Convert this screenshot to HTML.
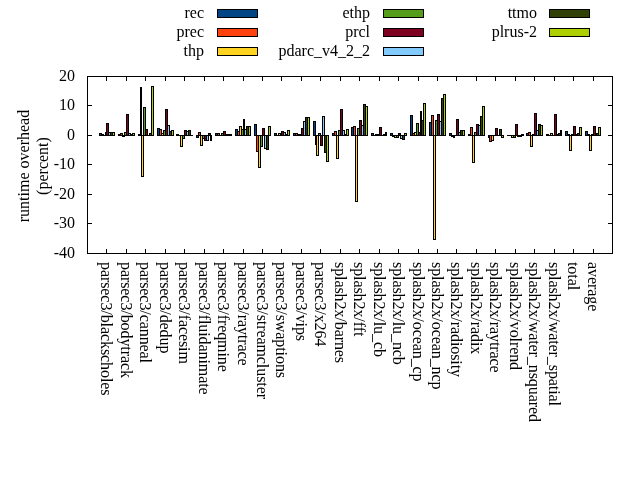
<!DOCTYPE html>
<html><head><meta charset="utf-8"><title>runtime overhead</title>
<style>
html,body{margin:0;padding:0;background:#fff;}
body{width:640px;height:480px;overflow:hidden;}
svg{display:block;position:absolute;left:0;top:0;}
text{font-family:"Liberation Serif",serif;font-size:16px;fill:#000;}
svg{will-change:transform;}
.xl{letter-spacing:-0.08px;}
</style></head><body>
<svg width="640" height="480" viewBox="0 0 640 480">
<rect x="0" y="0" width="640" height="480" fill="#fff"/>
<g shape-rendering="crispEdges">
<rect x="99" y="133" width="3" height="3" fill="#000"/><rect x="100" y="134" width="1" height="1" fill="#004586"/>
<rect x="101" y="134" width="3" height="2" fill="#000"/>
<rect x="103" y="135" width="3" height="1" fill="#000"/>
<rect x="105" y="132" width="2" height="4" fill="#000"/>
<rect x="106" y="123" width="3" height="13" fill="#000"/><rect x="107" y="124" width="1" height="11" fill="#7e0021"/>
<rect x="108" y="132" width="3" height="4" fill="#000"/><rect x="109" y="133" width="1" height="2" fill="#83caff"/>
<rect x="110" y="132" width="3" height="4" fill="#000"/><rect x="111" y="133" width="1" height="2" fill="#314004"/>
<rect x="112" y="132" width="3" height="4" fill="#000"/><rect x="113" y="133" width="1" height="2" fill="#aecf00"/>
<rect x="118" y="134" width="3" height="2" fill="#000"/>
<rect x="120" y="133" width="3" height="3" fill="#000"/><rect x="121" y="134" width="1" height="1" fill="#ff420e"/>
<rect x="122" y="135" width="3" height="2" fill="#000"/>
<rect x="124" y="132" width="3" height="4" fill="#000"/><rect x="125" y="133" width="1" height="2" fill="#579d1c"/>
<rect x="126" y="114" width="3" height="22" fill="#000"/><rect x="127" y="115" width="1" height="20" fill="#7e0021"/>
<rect x="128" y="133" width="3" height="3" fill="#000"/><rect x="129" y="134" width="1" height="1" fill="#83caff"/>
<rect x="130" y="134" width="3" height="2" fill="#000"/>
<rect x="132" y="133" width="3" height="3" fill="#000"/><rect x="133" y="134" width="1" height="1" fill="#aecf00"/>
<rect x="138" y="134" width="3" height="2" fill="#000"/>
<rect x="140" y="87" width="2" height="49" fill="#000"/>
<rect x="141" y="135" width="3" height="42" fill="#000"/><rect x="142" y="136" width="1" height="40" fill="#ffd320"/>
<rect x="143" y="107" width="3" height="29" fill="#000"/><rect x="144" y="108" width="1" height="27" fill="#579d1c"/>
<rect x="145" y="129" width="3" height="7" fill="#000"/><rect x="146" y="130" width="1" height="5" fill="#7e0021"/>
<rect x="147" y="135" width="3" height="1" fill="#000"/>
<rect x="149" y="133" width="3" height="3" fill="#000"/><rect x="150" y="134" width="1" height="1" fill="#314004"/>
<rect x="151" y="86" width="3" height="50" fill="#000"/><rect x="152" y="87" width="1" height="48" fill="#aecf00"/>
<rect x="157" y="128" width="3" height="8" fill="#000"/><rect x="158" y="129" width="1" height="6" fill="#004586"/>
<rect x="159" y="129" width="3" height="7" fill="#000"/><rect x="160" y="130" width="1" height="5" fill="#ff420e"/>
<rect x="161" y="133" width="3" height="3" fill="#000"/><rect x="162" y="134" width="1" height="1" fill="#ffd320"/>
<rect x="163" y="130" width="3" height="6" fill="#000"/><rect x="164" y="131" width="1" height="4" fill="#579d1c"/>
<rect x="165" y="109" width="3" height="27" fill="#000"/><rect x="166" y="110" width="1" height="25" fill="#7e0021"/>
<rect x="167" y="125" width="3" height="11" fill="#000"/><rect x="168" y="126" width="1" height="9" fill="#83caff"/>
<rect x="169" y="131" width="3" height="5" fill="#000"/><rect x="170" y="132" width="1" height="3" fill="#314004"/>
<rect x="171" y="130" width="3" height="6" fill="#000"/><rect x="172" y="131" width="1" height="4" fill="#aecf00"/>
<rect x="176" y="134" width="3" height="2" fill="#000"/>
<rect x="178" y="135" width="3" height="1" fill="#000"/>
<rect x="180" y="135" width="3" height="12" fill="#000"/><rect x="181" y="136" width="1" height="10" fill="#ffd320"/>
<rect x="182" y="135" width="3" height="4" fill="#000"/><rect x="183" y="136" width="1" height="2" fill="#579d1c"/>
<rect x="184" y="130" width="3" height="6" fill="#000"/><rect x="185" y="131" width="1" height="4" fill="#7e0021"/>
<rect x="186" y="131" width="3" height="5" fill="#000"/><rect x="187" y="132" width="1" height="3" fill="#83caff"/>
<rect x="188" y="130" width="3" height="6" fill="#000"/><rect x="189" y="131" width="1" height="4" fill="#314004"/>
<rect x="190" y="135" width="3" height="1" fill="#000"/>
<rect x="196" y="135" width="3" height="3" fill="#000"/><rect x="197" y="136" width="1" height="1" fill="#004586"/>
<rect x="198" y="132" width="3" height="4" fill="#000"/><rect x="199" y="133" width="1" height="2" fill="#ff420e"/>
<rect x="200" y="135" width="3" height="11" fill="#000"/><rect x="201" y="136" width="1" height="9" fill="#ffd320"/>
<rect x="202" y="135" width="3" height="4" fill="#000"/><rect x="203" y="136" width="1" height="2" fill="#579d1c"/>
<rect x="204" y="135" width="3" height="6" fill="#000"/><rect x="205" y="136" width="1" height="4" fill="#7e0021"/>
<rect x="206" y="135" width="3" height="6" fill="#000"/><rect x="207" y="136" width="1" height="4" fill="#83caff"/>
<rect x="208" y="133" width="3" height="3" fill="#000"/><rect x="209" y="134" width="1" height="1" fill="#314004"/>
<rect x="210" y="135" width="2" height="6" fill="#000"/>
<rect x="215" y="133" width="3" height="3" fill="#000"/><rect x="216" y="134" width="1" height="1" fill="#004586"/>
<rect x="217" y="133" width="3" height="3" fill="#000"/><rect x="218" y="134" width="1" height="1" fill="#ff420e"/>
<rect x="219" y="135" width="3" height="1" fill="#000"/>
<rect x="221" y="133" width="3" height="3" fill="#000"/><rect x="222" y="134" width="1" height="1" fill="#579d1c"/>
<rect x="223" y="131" width="3" height="5" fill="#000"/><rect x="224" y="132" width="1" height="3" fill="#7e0021"/>
<rect x="225" y="134" width="3" height="2" fill="#000"/>
<rect x="227" y="134" width="3" height="2" fill="#000"/>
<rect x="229" y="134" width="3" height="2" fill="#000"/>
<rect x="235" y="129" width="3" height="7" fill="#000"/><rect x="236" y="130" width="1" height="5" fill="#004586"/>
<rect x="237" y="131" width="3" height="5" fill="#000"/><rect x="238" y="132" width="1" height="3" fill="#ff420e"/>
<rect x="239" y="126" width="3" height="10" fill="#000"/><rect x="240" y="127" width="1" height="8" fill="#ffd320"/>
<rect x="241" y="129" width="3" height="7" fill="#000"/><rect x="242" y="130" width="1" height="5" fill="#579d1c"/>
<rect x="243" y="119" width="2" height="17" fill="#000"/>
<rect x="244" y="129" width="3" height="7" fill="#000"/><rect x="245" y="130" width="1" height="5" fill="#83caff"/>
<rect x="246" y="126" width="3" height="10" fill="#000"/><rect x="247" y="127" width="1" height="8" fill="#314004"/>
<rect x="248" y="126" width="3" height="10" fill="#000"/><rect x="249" y="127" width="1" height="8" fill="#aecf00"/>
<rect x="254" y="124" width="3" height="12" fill="#000"/><rect x="255" y="125" width="1" height="10" fill="#004586"/>
<rect x="256" y="135" width="3" height="17" fill="#000"/><rect x="257" y="136" width="1" height="15" fill="#ff420e"/>
<rect x="258" y="135" width="3" height="33" fill="#000"/><rect x="259" y="136" width="1" height="31" fill="#ffd320"/>
<rect x="260" y="135" width="3" height="12" fill="#000"/><rect x="261" y="136" width="1" height="10" fill="#579d1c"/>
<rect x="262" y="128" width="3" height="8" fill="#000"/><rect x="263" y="129" width="1" height="6" fill="#7e0021"/>
<rect x="264" y="135" width="3" height="14" fill="#000"/><rect x="265" y="136" width="1" height="12" fill="#83caff"/>
<rect x="266" y="135" width="3" height="15" fill="#000"/><rect x="267" y="136" width="1" height="13" fill="#314004"/>
<rect x="268" y="126" width="3" height="10" fill="#000"/><rect x="269" y="127" width="1" height="8" fill="#aecf00"/>
<rect x="274" y="133" width="3" height="3" fill="#000"/><rect x="275" y="134" width="1" height="1" fill="#004586"/>
<rect x="276" y="135" width="3" height="1" fill="#000"/>
<rect x="278" y="133" width="3" height="3" fill="#000"/><rect x="279" y="134" width="1" height="1" fill="#ffd320"/>
<rect x="280" y="133" width="2" height="3" fill="#000"/>
<rect x="281" y="131" width="3" height="5" fill="#000"/><rect x="282" y="132" width="1" height="3" fill="#7e0021"/>
<rect x="283" y="132" width="3" height="4" fill="#000"/><rect x="284" y="133" width="1" height="2" fill="#83caff"/>
<rect x="285" y="134" width="3" height="2" fill="#000"/>
<rect x="287" y="130" width="3" height="6" fill="#000"/><rect x="288" y="131" width="1" height="4" fill="#aecf00"/>
<rect x="293" y="133" width="3" height="3" fill="#000"/><rect x="294" y="134" width="1" height="1" fill="#004586"/>
<rect x="295" y="133" width="3" height="3" fill="#000"/><rect x="296" y="134" width="1" height="1" fill="#ff420e"/>
<rect x="297" y="134" width="3" height="2" fill="#000"/>
<rect x="299" y="134" width="3" height="2" fill="#000"/>
<rect x="301" y="128" width="3" height="8" fill="#000"/><rect x="302" y="129" width="1" height="6" fill="#7e0021"/>
<rect x="303" y="121" width="3" height="15" fill="#000"/><rect x="304" y="122" width="1" height="13" fill="#83caff"/>
<rect x="305" y="117" width="3" height="19" fill="#000"/><rect x="306" y="118" width="1" height="17" fill="#314004"/>
<rect x="307" y="117" width="3" height="19" fill="#000"/><rect x="308" y="118" width="1" height="17" fill="#aecf00"/>
<rect x="313" y="121" width="3" height="15" fill="#000"/><rect x="314" y="122" width="1" height="13" fill="#004586"/>
<rect x="315" y="135" width="2" height="10" fill="#000"/>
<rect x="316" y="135" width="3" height="21" fill="#000"/><rect x="317" y="136" width="1" height="19" fill="#ffd320"/>
<rect x="318" y="133" width="3" height="3" fill="#000"/><rect x="319" y="134" width="1" height="1" fill="#579d1c"/>
<rect x="320" y="135" width="3" height="11" fill="#000"/><rect x="321" y="136" width="1" height="9" fill="#7e0021"/>
<rect x="322" y="116" width="3" height="20" fill="#000"/><rect x="323" y="117" width="1" height="18" fill="#83caff"/>
<rect x="324" y="135" width="3" height="18" fill="#000"/><rect x="325" y="136" width="1" height="16" fill="#314004"/>
<rect x="326" y="135" width="3" height="27" fill="#000"/><rect x="327" y="136" width="1" height="25" fill="#aecf00"/>
<rect x="332" y="133" width="3" height="3" fill="#000"/><rect x="333" y="134" width="1" height="1" fill="#004586"/>
<rect x="334" y="131" width="3" height="5" fill="#000"/><rect x="335" y="132" width="1" height="3" fill="#ff420e"/>
<rect x="336" y="135" width="3" height="24" fill="#000"/><rect x="337" y="136" width="1" height="22" fill="#ffd320"/>
<rect x="338" y="130" width="3" height="6" fill="#000"/><rect x="339" y="131" width="1" height="4" fill="#579d1c"/>
<rect x="340" y="109" width="3" height="27" fill="#000"/><rect x="341" y="110" width="1" height="25" fill="#7e0021"/>
<rect x="342" y="130" width="3" height="6" fill="#000"/><rect x="343" y="131" width="1" height="4" fill="#83caff"/>
<rect x="344" y="134" width="3" height="2" fill="#000"/>
<rect x="346" y="129" width="3" height="7" fill="#000"/><rect x="347" y="130" width="1" height="5" fill="#aecf00"/>
<rect x="351" y="127" width="3" height="9" fill="#000"/><rect x="352" y="128" width="1" height="7" fill="#004586"/>
<rect x="353" y="126" width="3" height="10" fill="#000"/><rect x="354" y="127" width="1" height="8" fill="#ff420e"/>
<rect x="355" y="135" width="3" height="67" fill="#000"/><rect x="356" y="136" width="1" height="65" fill="#ffd320"/>
<rect x="357" y="128" width="3" height="8" fill="#000"/><rect x="358" y="129" width="1" height="6" fill="#579d1c"/>
<rect x="359" y="120" width="3" height="16" fill="#000"/><rect x="360" y="121" width="1" height="14" fill="#7e0021"/>
<rect x="361" y="125" width="3" height="11" fill="#000"/><rect x="362" y="126" width="1" height="9" fill="#83caff"/>
<rect x="363" y="104" width="3" height="32" fill="#000"/><rect x="364" y="105" width="1" height="30" fill="#314004"/>
<rect x="365" y="106" width="3" height="30" fill="#000"/><rect x="366" y="107" width="1" height="28" fill="#aecf00"/>
<rect x="371" y="133" width="3" height="3" fill="#000"/><rect x="372" y="134" width="1" height="1" fill="#004586"/>
<rect x="373" y="135" width="3" height="1" fill="#000"/>
<rect x="375" y="134" width="3" height="2" fill="#000"/>
<rect x="377" y="134" width="3" height="2" fill="#000"/>
<rect x="379" y="127" width="3" height="9" fill="#000"/><rect x="380" y="128" width="1" height="7" fill="#7e0021"/>
<rect x="381" y="135" width="3" height="1" fill="#000"/>
<rect x="383" y="134" width="3" height="2" fill="#000"/>
<rect x="385" y="132" width="2" height="4" fill="#000"/>
<rect x="390" y="133" width="3" height="3" fill="#000"/><rect x="391" y="134" width="1" height="1" fill="#004586"/>
<rect x="392" y="135" width="3" height="2" fill="#000"/>
<rect x="394" y="135" width="3" height="3" fill="#000"/><rect x="395" y="136" width="1" height="1" fill="#ffd320"/>
<rect x="396" y="135" width="3" height="3" fill="#000"/><rect x="397" y="136" width="1" height="1" fill="#579d1c"/>
<rect x="398" y="133" width="3" height="3" fill="#000"/><rect x="399" y="134" width="1" height="1" fill="#7e0021"/>
<rect x="400" y="135" width="3" height="4" fill="#000"/><rect x="401" y="136" width="1" height="2" fill="#83caff"/>
<rect x="402" y="135" width="3" height="5" fill="#000"/><rect x="403" y="136" width="1" height="3" fill="#314004"/>
<rect x="404" y="133" width="3" height="3" fill="#000"/><rect x="405" y="134" width="1" height="1" fill="#aecf00"/>
<rect x="410" y="115" width="3" height="21" fill="#000"/><rect x="411" y="116" width="1" height="19" fill="#004586"/>
<rect x="412" y="133" width="3" height="3" fill="#000"/><rect x="413" y="134" width="1" height="1" fill="#ff420e"/>
<rect x="414" y="132" width="3" height="4" fill="#000"/><rect x="415" y="133" width="1" height="2" fill="#ffd320"/>
<rect x="416" y="123" width="3" height="13" fill="#000"/><rect x="417" y="124" width="1" height="11" fill="#579d1c"/>
<rect x="418" y="132" width="3" height="4" fill="#000"/><rect x="419" y="133" width="1" height="2" fill="#7e0021"/>
<rect x="420" y="111" width="2" height="25" fill="#000"/>
<rect x="421" y="120" width="3" height="16" fill="#000"/><rect x="422" y="121" width="1" height="14" fill="#314004"/>
<rect x="423" y="103" width="3" height="33" fill="#000"/><rect x="424" y="104" width="1" height="31" fill="#aecf00"/>
<rect x="429" y="122" width="3" height="14" fill="#000"/><rect x="430" y="123" width="1" height="12" fill="#004586"/>
<rect x="431" y="115" width="3" height="21" fill="#000"/><rect x="432" y="116" width="1" height="19" fill="#ff420e"/>
<rect x="433" y="135" width="3" height="105" fill="#000"/><rect x="434" y="136" width="1" height="103" fill="#ffd320"/>
<rect x="435" y="120" width="3" height="16" fill="#000"/><rect x="436" y="121" width="1" height="14" fill="#579d1c"/>
<rect x="437" y="114" width="3" height="22" fill="#000"/><rect x="438" y="115" width="1" height="20" fill="#7e0021"/>
<rect x="439" y="121" width="3" height="15" fill="#000"/><rect x="440" y="122" width="1" height="13" fill="#83caff"/>
<rect x="441" y="98" width="3" height="38" fill="#000"/><rect x="442" y="99" width="1" height="36" fill="#314004"/>
<rect x="443" y="94" width="3" height="42" fill="#000"/><rect x="444" y="95" width="1" height="40" fill="#aecf00"/>
<rect x="449" y="133" width="3" height="3" fill="#000"/><rect x="450" y="134" width="1" height="1" fill="#004586"/>
<rect x="451" y="135" width="3" height="2" fill="#000"/>
<rect x="453" y="135" width="2" height="3" fill="#000"/>
<rect x="454" y="135" width="3" height="1" fill="#000"/>
<rect x="456" y="119" width="3" height="17" fill="#000"/><rect x="457" y="120" width="1" height="15" fill="#7e0021"/>
<rect x="458" y="132" width="3" height="4" fill="#000"/><rect x="459" y="133" width="1" height="2" fill="#83caff"/>
<rect x="460" y="130" width="3" height="6" fill="#000"/><rect x="461" y="131" width="1" height="4" fill="#314004"/>
<rect x="462" y="130" width="3" height="6" fill="#000"/><rect x="463" y="131" width="1" height="4" fill="#aecf00"/>
<rect x="468" y="134" width="3" height="2" fill="#000"/>
<rect x="470" y="127" width="3" height="9" fill="#000"/><rect x="471" y="128" width="1" height="7" fill="#ff420e"/>
<rect x="472" y="135" width="3" height="28" fill="#000"/><rect x="473" y="136" width="1" height="26" fill="#ffd320"/>
<rect x="474" y="132" width="3" height="4" fill="#000"/><rect x="475" y="133" width="1" height="2" fill="#579d1c"/>
<rect x="476" y="124" width="3" height="12" fill="#000"/><rect x="477" y="125" width="1" height="10" fill="#7e0021"/>
<rect x="478" y="125" width="3" height="11" fill="#000"/><rect x="479" y="126" width="1" height="9" fill="#83caff"/>
<rect x="480" y="116" width="3" height="20" fill="#000"/><rect x="481" y="117" width="1" height="18" fill="#314004"/>
<rect x="482" y="106" width="3" height="30" fill="#000"/><rect x="483" y="107" width="1" height="28" fill="#aecf00"/>
<rect x="488" y="135" width="2" height="3" fill="#000"/>
<rect x="489" y="135" width="3" height="7" fill="#000"/><rect x="490" y="136" width="1" height="5" fill="#ff420e"/>
<rect x="491" y="135" width="3" height="6" fill="#000"/><rect x="492" y="136" width="1" height="4" fill="#ffd320"/>
<rect x="493" y="135" width="3" height="1" fill="#000"/>
<rect x="495" y="128" width="3" height="8" fill="#000"/><rect x="496" y="129" width="1" height="6" fill="#7e0021"/>
<rect x="497" y="135" width="3" height="1" fill="#000"/>
<rect x="499" y="129" width="3" height="7" fill="#000"/><rect x="500" y="130" width="1" height="5" fill="#314004"/>
<rect x="501" y="135" width="3" height="3" fill="#000"/><rect x="502" y="136" width="1" height="1" fill="#aecf00"/>
<rect x="507" y="135" width="3" height="1" fill="#000"/>
<rect x="509" y="135" width="3" height="1" fill="#000"/>
<rect x="511" y="135" width="3" height="3" fill="#000"/><rect x="512" y="136" width="1" height="1" fill="#ffd320"/>
<rect x="513" y="135" width="3" height="3" fill="#000"/><rect x="514" y="136" width="1" height="1" fill="#579d1c"/>
<rect x="515" y="124" width="3" height="12" fill="#000"/><rect x="516" y="125" width="1" height="10" fill="#7e0021"/>
<rect x="517" y="135" width="3" height="2" fill="#000"/>
<rect x="519" y="135" width="3" height="2" fill="#000"/>
<rect x="521" y="134" width="3" height="2" fill="#000"/>
<rect x="526" y="133" width="3" height="3" fill="#000"/><rect x="527" y="134" width="1" height="1" fill="#004586"/>
<rect x="528" y="132" width="3" height="4" fill="#000"/><rect x="529" y="133" width="1" height="2" fill="#ff420e"/>
<rect x="530" y="135" width="3" height="12" fill="#000"/><rect x="531" y="136" width="1" height="10" fill="#ffd320"/>
<rect x="532" y="134" width="3" height="2" fill="#000"/>
<rect x="534" y="113" width="3" height="23" fill="#000"/><rect x="535" y="114" width="1" height="21" fill="#7e0021"/>
<rect x="536" y="130" width="3" height="6" fill="#000"/><rect x="537" y="131" width="1" height="4" fill="#83caff"/>
<rect x="538" y="124" width="3" height="12" fill="#000"/><rect x="539" y="125" width="1" height="10" fill="#314004"/>
<rect x="540" y="125" width="3" height="11" fill="#000"/><rect x="541" y="126" width="1" height="9" fill="#aecf00"/>
<rect x="546" y="134" width="3" height="2" fill="#000"/>
<rect x="548" y="135" width="3" height="1" fill="#000"/>
<rect x="550" y="133" width="3" height="3" fill="#000"/><rect x="551" y="134" width="1" height="1" fill="#ffd320"/>
<rect x="552" y="135" width="3" height="1" fill="#000"/>
<rect x="554" y="114" width="3" height="22" fill="#000"/><rect x="555" y="115" width="1" height="20" fill="#7e0021"/>
<rect x="556" y="134" width="3" height="2" fill="#000"/>
<rect x="558" y="133" width="3" height="3" fill="#000"/><rect x="559" y="134" width="1" height="1" fill="#314004"/>
<rect x="560" y="130" width="2" height="6" fill="#000"/>
<rect x="565" y="131" width="3" height="5" fill="#000"/><rect x="566" y="132" width="1" height="3" fill="#004586"/>
<rect x="567" y="134" width="3" height="2" fill="#000"/>
<rect x="569" y="135" width="3" height="16" fill="#000"/><rect x="570" y="136" width="1" height="14" fill="#ffd320"/>
<rect x="571" y="134" width="3" height="2" fill="#000"/>
<rect x="573" y="126" width="3" height="10" fill="#000"/><rect x="574" y="127" width="1" height="8" fill="#7e0021"/>
<rect x="575" y="134" width="3" height="2" fill="#000"/>
<rect x="577" y="133" width="3" height="3" fill="#000"/><rect x="578" y="134" width="1" height="1" fill="#314004"/>
<rect x="579" y="127" width="3" height="9" fill="#000"/><rect x="580" y="128" width="1" height="7" fill="#aecf00"/>
<rect x="585" y="131" width="3" height="5" fill="#000"/><rect x="586" y="132" width="1" height="3" fill="#004586"/>
<rect x="587" y="134" width="3" height="2" fill="#000"/>
<rect x="589" y="135" width="3" height="16" fill="#000"/><rect x="590" y="136" width="1" height="14" fill="#ffd320"/>
<rect x="591" y="134" width="3" height="2" fill="#000"/>
<rect x="593" y="126" width="3" height="10" fill="#000"/><rect x="594" y="127" width="1" height="8" fill="#7e0021"/>
<rect x="595" y="134" width="2" height="2" fill="#000"/>
<rect x="596" y="133" width="3" height="3" fill="#000"/><rect x="597" y="134" width="1" height="1" fill="#314004"/>
<rect x="598" y="127" width="3" height="9" fill="#000"/><rect x="599" y="128" width="1" height="7" fill="#aecf00"/>
</g>
<g shape-rendering="crispEdges" fill="#000">
<rect x="87" y="76" width="526" height="1"/><rect x="87" y="253" width="526" height="1"/><rect x="87" y="76" width="1" height="178"/><rect x="612" y="76" width="1" height="178"/>
<rect x="87" y="76" width="5" height="1"/><rect x="608" y="76" width="5" height="1"/>
<rect x="87" y="105" width="5" height="1"/><rect x="608" y="105" width="5" height="1"/>
<rect x="87" y="135" width="5" height="1"/><rect x="608" y="135" width="5" height="1"/>
<rect x="87" y="164" width="5" height="1"/><rect x="608" y="164" width="5" height="1"/>
<rect x="87" y="194" width="5" height="1"/><rect x="608" y="194" width="5" height="1"/>
<rect x="87" y="223" width="5" height="1"/><rect x="608" y="223" width="5" height="1"/>
<rect x="87" y="253" width="5" height="1"/><rect x="608" y="253" width="5" height="1"/>
<rect x="106" y="76" width="1" height="5"/><rect x="106" y="249" width="1" height="5"/>
<rect x="126" y="76" width="1" height="5"/><rect x="126" y="249" width="1" height="5"/>
<rect x="145" y="76" width="1" height="5"/><rect x="145" y="249" width="1" height="5"/>
<rect x="165" y="76" width="1" height="5"/><rect x="165" y="249" width="1" height="5"/>
<rect x="184" y="76" width="1" height="5"/><rect x="184" y="249" width="1" height="5"/>
<rect x="204" y="76" width="1" height="5"/><rect x="204" y="249" width="1" height="5"/>
<rect x="223" y="76" width="1" height="5"/><rect x="223" y="249" width="1" height="5"/>
<rect x="243" y="76" width="1" height="5"/><rect x="243" y="249" width="1" height="5"/>
<rect x="262" y="76" width="1" height="5"/><rect x="262" y="249" width="1" height="5"/>
<rect x="281" y="76" width="1" height="5"/><rect x="281" y="249" width="1" height="5"/>
<rect x="301" y="76" width="1" height="5"/><rect x="301" y="249" width="1" height="5"/>
<rect x="320" y="76" width="1" height="5"/><rect x="320" y="249" width="1" height="5"/>
<rect x="340" y="76" width="1" height="5"/><rect x="340" y="249" width="1" height="5"/>
<rect x="359" y="76" width="1" height="5"/><rect x="359" y="249" width="1" height="5"/>
<rect x="379" y="76" width="1" height="5"/><rect x="379" y="249" width="1" height="5"/>
<rect x="398" y="76" width="1" height="5"/><rect x="398" y="249" width="1" height="5"/>
<rect x="418" y="76" width="1" height="5"/><rect x="418" y="249" width="1" height="5"/>
<rect x="437" y="76" width="1" height="5"/><rect x="437" y="249" width="1" height="5"/>
<rect x="456" y="76" width="1" height="5"/><rect x="456" y="249" width="1" height="5"/>
<rect x="476" y="76" width="1" height="5"/><rect x="476" y="249" width="1" height="5"/>
<rect x="495" y="76" width="1" height="5"/><rect x="495" y="249" width="1" height="5"/>
<rect x="515" y="76" width="1" height="5"/><rect x="515" y="249" width="1" height="5"/>
<rect x="534" y="76" width="1" height="5"/><rect x="534" y="249" width="1" height="5"/>
<rect x="554" y="76" width="1" height="5"/><rect x="554" y="249" width="1" height="5"/>
<rect x="573" y="76" width="1" height="5"/><rect x="573" y="249" width="1" height="5"/>
<rect x="593" y="76" width="1" height="5"/><rect x="593" y="249" width="1" height="5"/>
</g>
<text x="75" y="81" text-anchor="end">20</text>
<text x="75" y="110" text-anchor="end">10</text>
<text x="75" y="140" text-anchor="end">0</text>
<text x="75" y="169" text-anchor="end">-10</text>
<text x="75" y="199" text-anchor="end">-20</text>
<text x="75" y="228" text-anchor="end">-30</text>
<text x="75" y="258" text-anchor="end">-40</text>
<text class="xl" x="101.0" y="262" transform="rotate(90 101.0 262)">parsec3/blackscholes</text>
<text class="xl" x="121.0" y="262" transform="rotate(90 121.0 262)">parsec3/bodytrack</text>
<text class="xl" x="140.0" y="262" transform="rotate(90 140.0 262)">parsec3/canneal</text>
<text class="xl" x="160.0" y="262" transform="rotate(90 160.0 262)">parsec3/dedup</text>
<text class="xl" x="179.0" y="262" transform="rotate(90 179.0 262)">parsec3/facesim</text>
<text class="xl" x="199.0" y="262" transform="rotate(90 199.0 262)">parsec3/fluidanimate</text>
<text class="xl" x="218.0" y="262" transform="rotate(90 218.0 262)">parsec3/freqmine</text>
<text class="xl" x="238.0" y="262" transform="rotate(90 238.0 262)">parsec3/raytrace</text>
<text class="xl" x="257.0" y="262" transform="rotate(90 257.0 262)">parsec3/streamcluster</text>
<text class="xl" x="276.0" y="262" transform="rotate(90 276.0 262)">parsec3/swaptions</text>
<text class="xl" x="296.0" y="262" transform="rotate(90 296.0 262)">parsec3/vips</text>
<text class="xl" x="315.0" y="262" transform="rotate(90 315.0 262)">parsec3/x264</text>
<text class="xl" x="335.0" y="262" transform="rotate(90 335.0 262)">splash2x/barnes</text>
<text class="xl" x="354.0" y="262" transform="rotate(90 354.0 262)">splash2x/fft</text>
<text class="xl" x="374.0" y="262" transform="rotate(90 374.0 262)">splash2x/lu_cb</text>
<text class="xl" x="393.0" y="262" transform="rotate(90 393.0 262)">splash2x/lu_ncb</text>
<text class="xl" x="413.0" y="262" transform="rotate(90 413.0 262)">splash2x/ocean_cp</text>
<text class="xl" x="432.0" y="262" transform="rotate(90 432.0 262)">splash2x/ocean_ncp</text>
<text class="xl" x="451.0" y="262" transform="rotate(90 451.0 262)">splash2x/radiosity</text>
<text class="xl" x="471.0" y="262" transform="rotate(90 471.0 262)">splash2x/radix</text>
<text class="xl" x="490.0" y="262" transform="rotate(90 490.0 262)">splash2x/raytrace</text>
<text class="xl" x="510.0" y="262" transform="rotate(90 510.0 262)">splash2x/volrend</text>
<text class="xl" x="529.0" y="262" transform="rotate(90 529.0 262)">splash2x/water_nsquared</text>
<text class="xl" x="549.0" y="262" transform="rotate(90 549.0 262)">splash2x/water_spatial</text>
<text class="xl" x="568.0" y="262" transform="rotate(90 568.0 262)">total</text>
<text class="xl" x="588.0" y="262" transform="rotate(90 588.0 262)">average</text>
<text x="29" y="166" text-anchor="middle" transform="rotate(-90 29 166)">runtime overhead</text>
<text x="48" y="166" text-anchor="middle" transform="rotate(-90 48 166)">(percent)</text>
<text x="204" y="18" text-anchor="end">rec</text><g shape-rendering="crispEdges"><rect x="217" y="9" width="41" height="9" fill="#000"/><rect x="218" y="10" width="39" height="7" fill="#004586"/></g>
<text x="204" y="37" text-anchor="end">prec</text><g shape-rendering="crispEdges"><rect x="217" y="28" width="41" height="9" fill="#000"/><rect x="218" y="29" width="39" height="7" fill="#ff420e"/></g>
<text x="204" y="56" text-anchor="end">thp</text><g shape-rendering="crispEdges"><rect x="217" y="47" width="41" height="9" fill="#000"/><rect x="218" y="48" width="39" height="7" fill="#ffd320"/></g>
<text x="370" y="18" text-anchor="end">ethp</text><g shape-rendering="crispEdges"><rect x="383" y="9" width="41" height="9" fill="#000"/><rect x="384" y="10" width="39" height="7" fill="#579d1c"/></g>
<text x="370" y="37" text-anchor="end">prcl</text><g shape-rendering="crispEdges"><rect x="383" y="28" width="41" height="9" fill="#000"/><rect x="384" y="29" width="39" height="7" fill="#7e0021"/></g>
<text x="370" y="56" text-anchor="end">pdarc_v4_2_2</text><g shape-rendering="crispEdges"><rect x="383" y="47" width="41" height="9" fill="#000"/><rect x="384" y="48" width="39" height="7" fill="#83caff"/></g>
<text x="537" y="18" text-anchor="end">ttmo</text><g shape-rendering="crispEdges"><rect x="549" y="9" width="41" height="9" fill="#000"/><rect x="550" y="10" width="39" height="7" fill="#314004"/></g>
<text x="537" y="37" text-anchor="end">plrus-2</text><g shape-rendering="crispEdges"><rect x="549" y="28" width="41" height="9" fill="#000"/><rect x="550" y="29" width="39" height="7" fill="#aecf00"/></g>
</svg>
</body></html>
